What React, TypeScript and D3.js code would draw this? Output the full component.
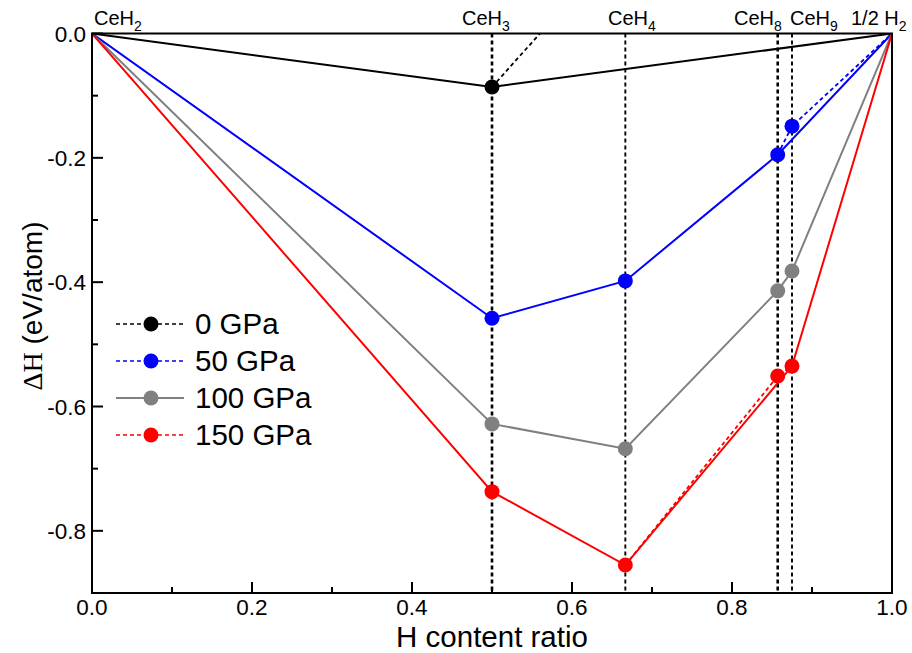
import React from "react";
import * as d3 from "d3";

// Compounds along the CeH2 – H2 tie line and their H content ratio
const compounds = ["CeH2", "CeH3", "CeH4", "CeH8", "CeH9", "1/2 H2"];
const ratios = [0, 1 / 2, 2 / 3, 6 / 7, 7 / 8, 1];

// Formation enthalpy (eV/atom) per pressure, indexed like `compounds`
const pressures = ["0 GPa", "50 GPa", "100 GPa", "150 GPa"];
const dH0 = [0, -0.086, 0.153, null, null, 0];
const dH50 = [0, -0.458, -0.398, -0.195, -0.149, 0];
const dH100 = [0, -0.628, -0.668, -0.414, -0.382, 0];
const dH150 = [0, -0.737, -0.855, -0.551, -0.535, 0];

// Indices on the convex hull (solid) and off-hull connections (dashed)
const hull0 = [0, 1, 5];
const hull50 = [0, 1, 2, 3, 5];
const hull100 = [0, 1, 2, 3, 4, 5];
const hull150 = [0, 1, 2, 4, 5];
const off0 = [1, 2];
const off50 = [3, 4, 5];
const off100: number[] = [];
const off150 = [2, 3, 4];

const colors = ["#000000", "#0000ff", "#808080", "#ff0000"];
const legendDashed = [true, true, false, true];

const xTicks = [0, 0.2, 0.4, 0.6, 0.8, 1.0];
const yTicks = [0, -0.2, -0.4, -0.6, -0.8];

const W = 912;
const H = 653;
const font = "'Liberation Sans', Arial, sans-serif";

export default function App() {
  const x = d3.scaleLinear().domain([0, 1]).range([92, 892]);
  const y = d3.scaleLinear().domain([0, -0.9]).range([33.5, 593]);
  const [x0, x1] = x.range();
  const [y0, y1] = y.range();

  const series = [
    { vals: dH0, hull: hull0, off: off0 },
    { vals: dH50, hull: hull50, off: off50 },
    { vals: dH100, hull: hull100, off: off100 },
    { vals: dH150, hull: hull150, off: off150 },
  ];

  const line = d3
    .line<number[]>()
    .x((d) => x(d[0]))
    .y((d) => y(d[1]));

  const pts = (vals: (number | null)[], idx: number[]) =>
    idx.map((i) => [ratios[i], vals[i] as number]);

  const xMinor = d3.range(0, 1.0001, 0.1);
  const yMinor = d3.range(0, -0.9001, -0.1);

  // Top labels for each compound
  const topLabels = [
    { base: "CeH", sub: "2", x: 94 },
    { base: "CeH", sub: "3", x: 462 },
    { base: "CeH", sub: "4", x: 608 },
    { base: "CeH", sub: "8", x: 734 },
    { base: "CeH", sub: "9", x: 790 },
    { base: "1/2 H", sub: "2", x: 851 },
  ];

  const legendY = [324, 361, 398, 435];

  return (
    <svg
      width={W}
      height={H}
      style={{ position: "absolute", left: 0, top: 0, background: "#fff" }}
      fontFamily={font}
    >
      <defs>
        <clipPath id="plotArea">
          <rect x={x0} y={y0} width={x1 - x0} height={y1 - y0} />
        </clipPath>
      </defs>
      <rect width={W} height={H} fill="#fff" />

      {/* vertical guides at each intermediate compound */}
      {[1, 2, 3, 4].map((i) => (
        <line
          key={"v" + i}
          x1={x(ratios[i])}
          x2={x(ratios[i])}
          y1={y0}
          y2={y1}
          stroke="#000"
          strokeWidth={i === 1 || i === 3 ? 2.6 : 1.9}
          strokeDasharray="4,3"
        />
      ))}

      <g clipPath="url(#plotArea)">
        {series.map((s, k) => (
          <g key={"s" + k}>
            {s.off.length > 1 && (
              <path
                d={line(pts(s.vals, s.off)) || ""}
                fill="none"
                stroke={colors[k]}
                strokeWidth={1.8}
                strokeDasharray="4,3"
              />
            )}
            <path
              d={line(pts(s.vals, s.hull)) || ""}
              fill="none"
              stroke={colors[k]}
              strokeWidth={2}
            />
          </g>
        ))}
        {series.map((s, k) =>
          [1, 2, 3, 4]
            .filter((i) => s.vals[i] !== null)
            .map((i) => (
              <circle
                key={"c" + k + "-" + i}
                cx={x(ratios[i])}
                cy={y(s.vals[i] as number)}
                r={7.5}
                fill={colors[k]}
              />
            ))
        )}
      </g>

      {/* frame */}
      <rect
        x={x0}
        y={y0}
        width={x1 - x0}
        height={y1 - y0}
        fill="none"
        stroke="#000"
        strokeWidth={2}
      />

      {/* x ticks */}
      {xMinor.map((t, i) => (
        <line
          key={"xm" + i}
          x1={x(t)}
          x2={x(t)}
          y1={y1}
          y2={y1 - (i % 2 === 0 ? 11 : 6)}
          stroke="#000"
          strokeWidth={2}
        />
      ))}
      {xTicks.map((t) => (
        <text
          key={"xt" + t}
          x={x(t)}
          y={615}
          textAnchor="middle"
          fontSize={22.5}
        >
          {d3.format(".1f")(t)}
        </text>
      ))}

      {/* y ticks */}
      {yMinor.map((t, i) => (
        <line
          key={"ym" + i}
          x1={x0}
          x2={x0 + (i % 2 === 0 ? 11 : 6)}
          y1={y(t)}
          y2={y(t)}
          stroke="#000"
          strokeWidth={2}
        />
      ))}
      {yTicks.map((t) => (
        <text
          key={"yt" + t}
          x={86}
          y={y(t) + 8}
          textAnchor="end"
          fontSize={22.5}
        >
          {d3.format(".1f")(t).replace("−", "-")}
        </text>
      ))}

      {/* compound labels */}
      {topLabels.map((l, i) => (
        <text key={"tl" + i} x={l.x} y={25} fontSize={20}>
          {l.base}
          <tspan fontSize={14} dy={6}>
            {l.sub}
          </tspan>
        </text>
      ))}

      {/* axis titles */}
      <text x={492} y={647} textAnchor="middle" fontSize={29.5}>
        H content ratio
      </text>
      <text
        transform={`translate(42,306) rotate(-90)`}
        textAnchor="middle"
        fontSize={28}
      >
        <tspan fontFamily="'Liberation Serif', 'Times New Roman', serif">ΔH</tspan>
        <tspan> (eV/atom)</tspan>
      </text>

      {/* legend */}
      {pressures.map((p, k) => (
        <g key={"lg" + k}>
          <line
            x1={116}
            x2={184}
            y1={legendY[k]}
            y2={legendY[k]}
            stroke={colors[k]}
            strokeWidth={legendDashed[k] ? 1.5 : 2}
            strokeDasharray={legendDashed[k] ? "4,3" : undefined}
          />
          <circle cx={151} cy={legendY[k]} r={7.5} fill={colors[k]} />
          <text x={195} y={legendY[k] + 9.5} fontSize={29.5}>
            {p}
          </text>
        </g>
      ))}
    </svg>
  );
}
